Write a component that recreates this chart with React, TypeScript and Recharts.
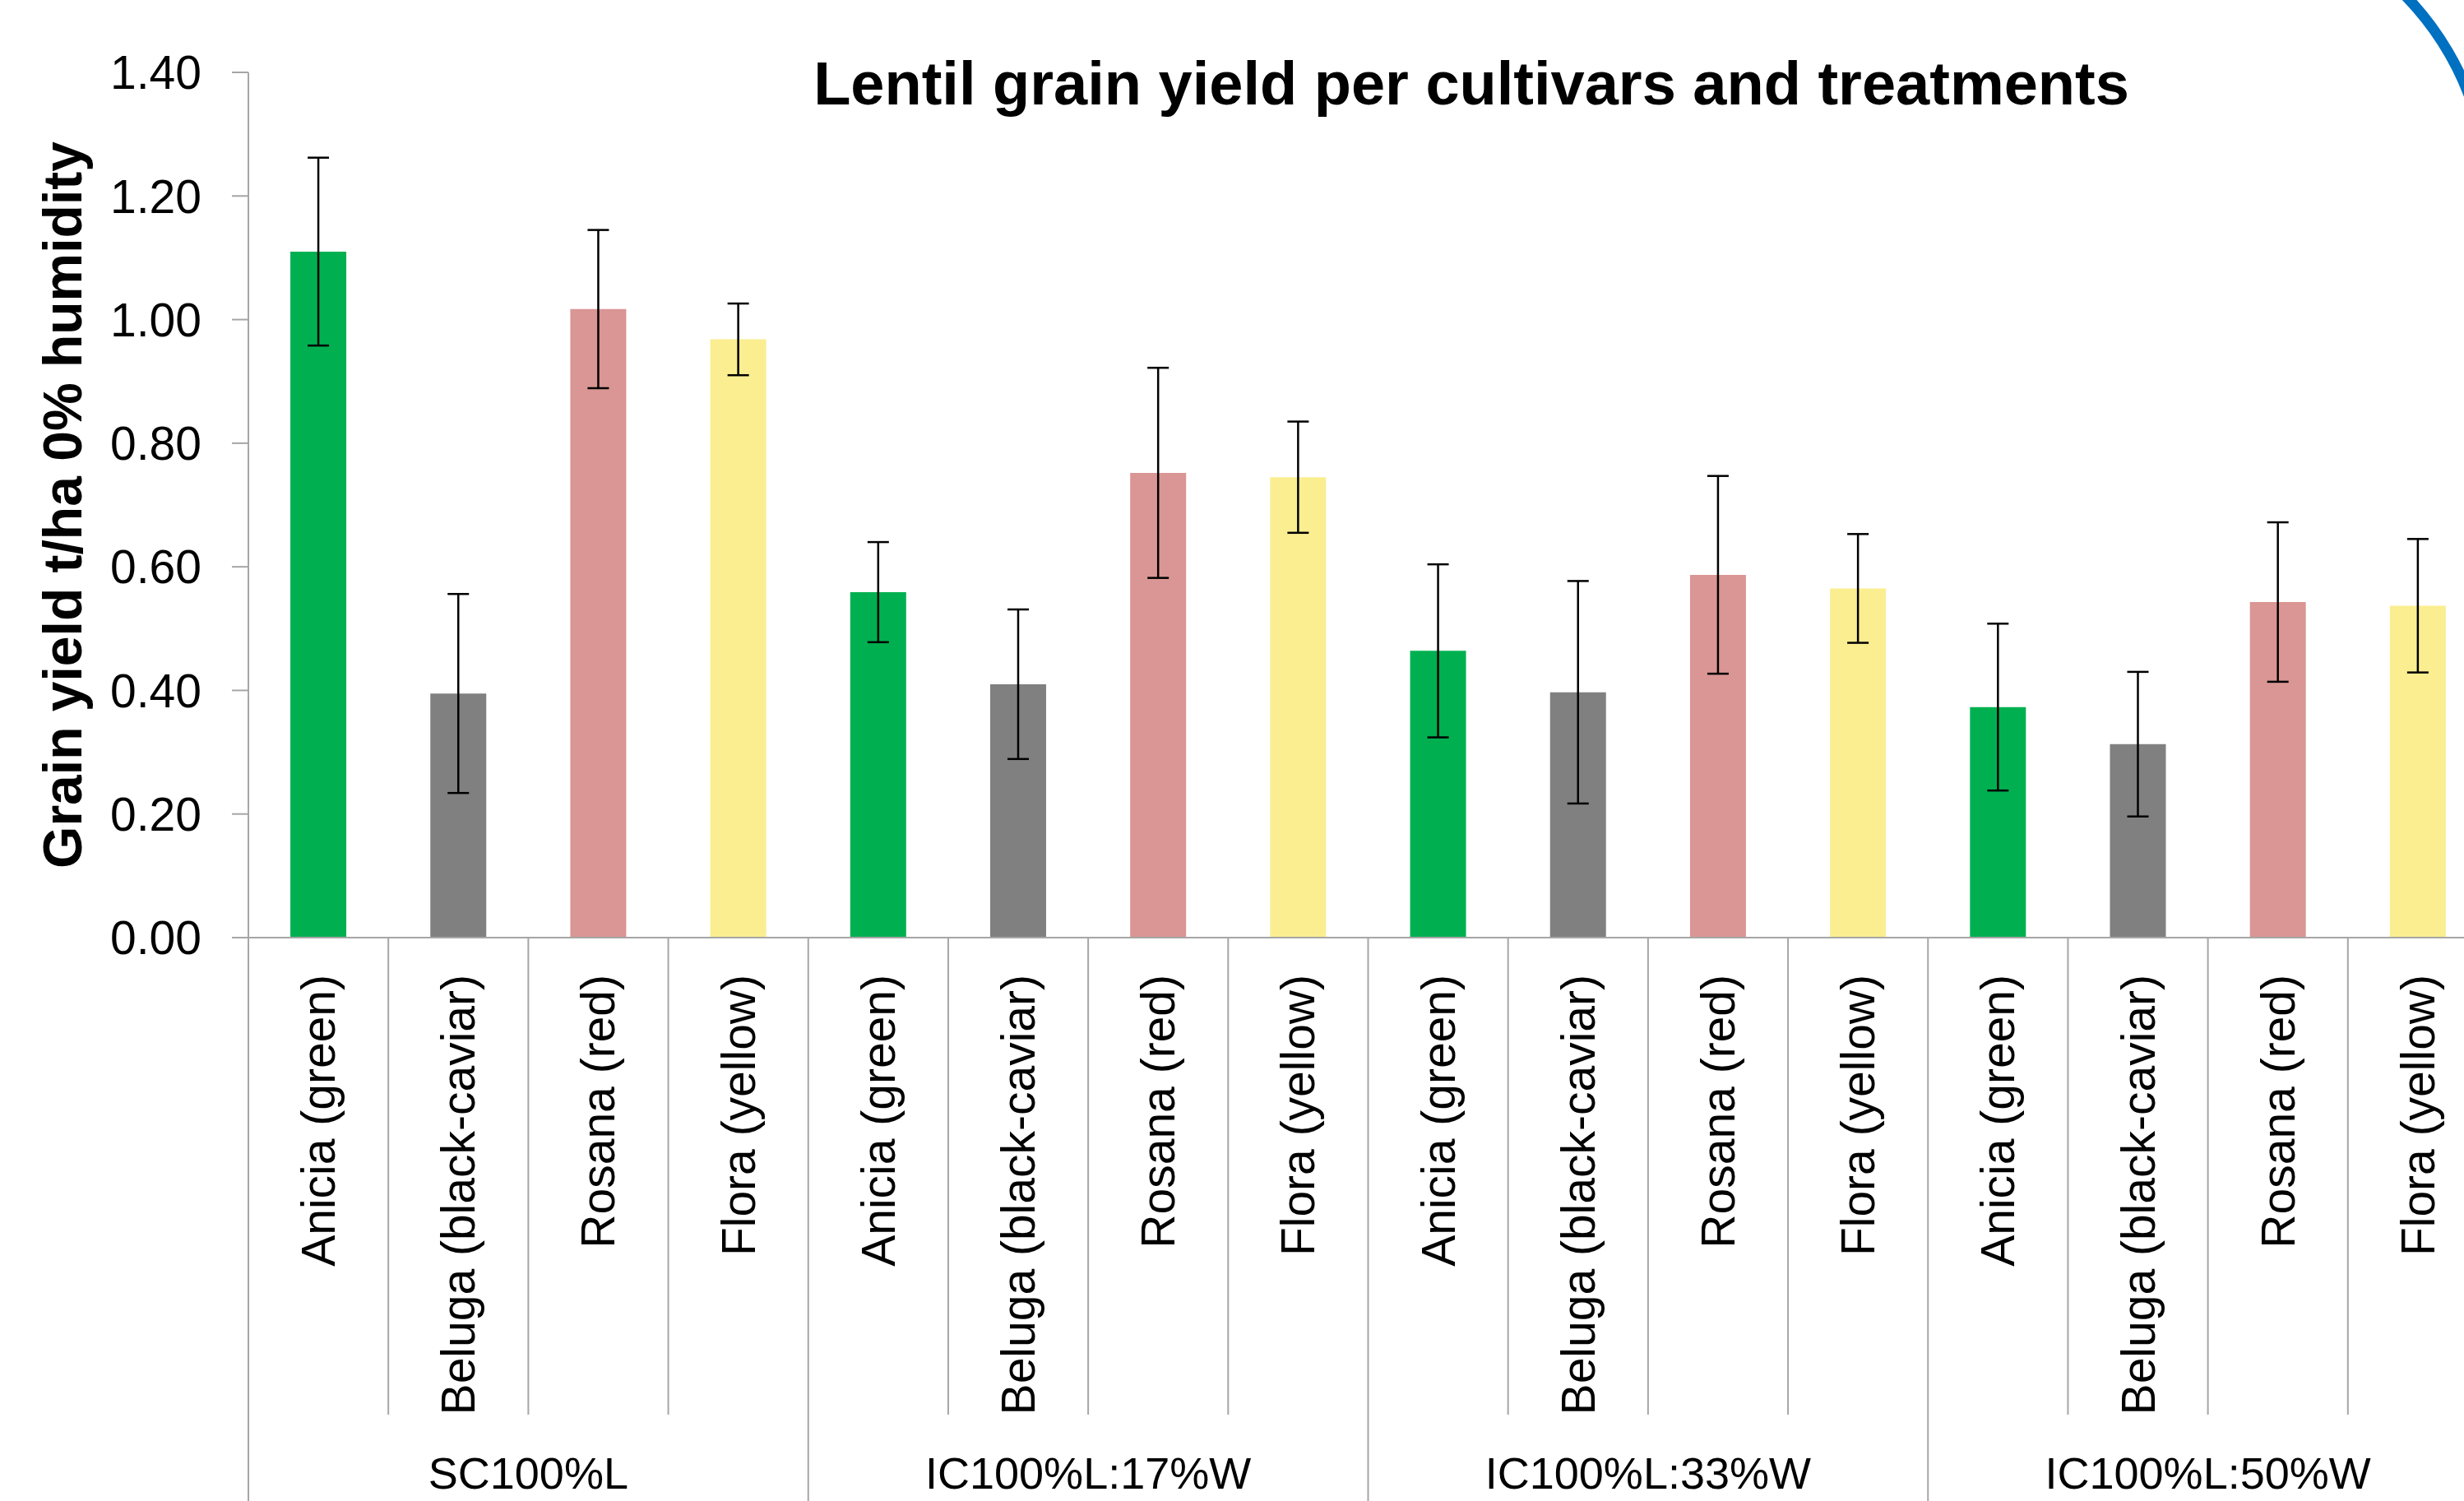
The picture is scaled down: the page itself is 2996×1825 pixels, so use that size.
import React from 'react';
import { BarChart, Bar, XAxis, YAxis, Cell, ErrorBar, Label } from 'recharts';

const treatments = ['SC100%L', 'IC100%L:17%W', 'IC100%L:33%W', 'IC100%L:50%W'];
const cultivars = ['Anicia (green)', 'Beluga (black-caviar)', 'Rosana (red)', 'Flora (yellow)'];
const cultivarColors = ['#00B050', '#808080', '#DA9694', '#FAEE90'];

// mean grain yield (t/ha), cultivar order as above
const yieldSC100 = [1.11, 0.395, 1.017, 0.968];
const yieldIC17 = [0.559, 0.41, 0.752, 0.745];
const yieldIC33 = [0.464, 0.397, 0.587, 0.565];
const yieldIC50 = [0.373, 0.313, 0.543, 0.537];

// +/- error per bar
const errSC100 = [0.152, 0.161, 0.128, 0.058];
const errIC17 = [0.081, 0.121, 0.17, 0.09];
const errIC33 = [0.14, 0.18, 0.16, 0.088];
const errIC50 = [0.135, 0.117, 0.129, 0.108];

const yTicks = [0, 0.2, 0.4, 0.6, 0.8, 1.0, 1.2, 1.4];

const yields = [yieldSC100, yieldIC17, yieldIC33, yieldIC50];
const errors = [errSC100, errIC17, errIC33, errIC50];

const data = treatments.flatMap((treatment, t) =>
  cultivars.map((cultivar, c) => ({
    id: `${treatment} ${cultivar}`,
    treatment,
    cultivar,
    color: c,
    yield: yields[t][c],
    err: errors[t][c],
  }))
);

const FONT = '"Liberation Sans", Arial, sans-serif';
const AXIS = '#A6A6A6';
const CHART_W = 3030;
const CHART_H = 1900;
const Y_AXIS_W = 302;
const MARGIN = { top: 88, right: 5, bottom: 0, left: 0 };
const BAND = (CHART_W - MARGIN.left - MARGIN.right - Y_AXIS_W) / data.length;

const CategoryTick = (props: any) => {
  const { x, y, payload } = props;
  const index = payload?.index ?? props.index ?? 0;
  const half = payload?.offset || BAND / 2;
  const row = data[index];
  const left = x - half;
  const groupEdge = index % 4 === 0;
  const labelTop = y + 45;
  return (
    <g>
      <line x1={left} y1={y} x2={left} y2={y + (groupEdge ? 800 : 580)} stroke={AXIS} strokeWidth={2} />
      {index === data.length - 1 && (
        <line x1={x + half} y1={y} x2={x + half} y2={y + 800} stroke={AXIS} strokeWidth={2} />
      )}
      <text
        x={x}
        y={labelTop}
        transform={`rotate(-90, ${x}, ${labelTop})`}
        textAnchor="end"
        dominantBaseline="central"
        fontFamily={FONT}
        fontSize={57}
        fill="#000"
      >
        {row.cultivar}
      </text>
      {index % 4 === 1 && (
        <text x={x + half} y={y + 670} textAnchor="middle" fontFamily={FONT} fontSize={54} fill="#000">
          {row.treatment}
        </text>
      )}
    </g>
  );
};

export default function App() {
  return (
    <div
      style={{
        position: 'absolute',
        left: 0,
        top: 0,
        width: 2996,
        height: 1825,
        overflow: 'hidden',
        background: '#fff',
      }}
    >
      <BarChart
        width={CHART_W}
        height={CHART_H}
        data={data}
        margin={MARGIN}
        barCategoryGap="30%"
        style={{ fontFamily: FONT }}
      >
        <XAxis
          dataKey="id"
          interval={0}
          height={CHART_H - MARGIN.top - 1052}
          tickLine={false}
          tickSize={0}
          tickMargin={0}
          axisLine={{ stroke: AXIS, strokeWidth: 2 }}
          tick={<CategoryTick />}
        />
        <YAxis
          width={Y_AXIS_W}
          domain={[0, 1.4]}
          ticks={yTicks}
          interval={0}
          tickFormatter={(v: number) => v.toFixed(2)}
          tickSize={20}
          tickMargin={37}
          tick={{ fontSize: 57, fill: '#000', fontFamily: FONT }}
          axisLine={{ stroke: AXIS, strokeWidth: 2 }}
          tickLine={{ stroke: AXIS, strokeWidth: 2 }}
        >
          <Label
            value="Grain yield t/ha 0% humidity"
            angle={-90}
            position="center"
            dx={-75}
            style={{ fontSize: 66, fontWeight: 'bold', fill: '#000', fontFamily: FONT }}
          />
        </YAxis>
        <Bar dataKey="yield" isAnimationActive={false}>
          {data.map((d, i) => (
            <Cell key={`cell-${i}`} fill={cultivarColors[d.color]} />
          ))}
          <ErrorBar dataKey="err" direction="y" width={13} stroke="#000" strokeWidth={2.5} isAnimationActive={false} />
        </Bar>
      </BarChart>
      {/* title and the slide's blue arc sit on top */}
      <svg
        width={2996}
        height={1825}
        style={{ position: 'absolute', left: 0, top: 0, pointerEvents: 'none' }}
      >
        <text x={1789} y={127} textAnchor="middle" fontFamily={FONT} fontWeight="bold" fontSize={74} fill="#000">
          Lentil grain yield per cultivars and treatments
        </text>
        <path d="M 2915 -15 A 363 363 0 0 1 3014 152" fill="none" stroke="#0070C0" strokeWidth={13} />
      </svg>
    </div>
  );
}
